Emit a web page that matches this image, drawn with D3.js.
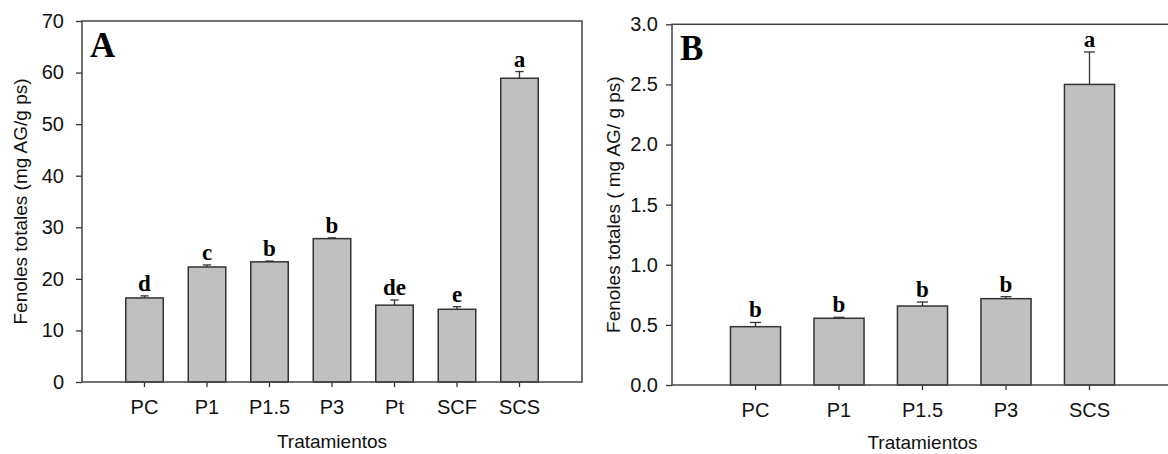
<!DOCTYPE html>
<html>
<head>
<meta charset="utf-8">
<script src="https://cdn.jsdelivr.net/npm/d3@7"></script>
<style>
  body { margin: 0; background: #fff; }
  svg { display: block; }
  .tick text { font-family: "Liberation Sans", Arial, sans-serif; font-size: 20px; fill: #111; }
  .tick line { stroke: #333; stroke-width: 1.3; }
</style>
</head>
<body>
<div id="chart"></div>
<script>
// panel A
var catsA = ["PC", "P1", "P1.5", "P3", "Pt", "SCF", "SCS"];
var meansA = [16.3, 22.3, 23.3, 27.8, 14.9, 14.1, 58.9];
var errA = [0.4, 0.4, 0.15, 0.15, 1.0, 0.5, 1.3];
var lettersA = ["d", "c", "b", "b", "de", "e", "a"];
var ticksA = [0, 10, 20, 30, 40, 50, 60, 70];

// panel B
var catsB = ["PC", "P1", "P1.5", "P3", "SCS"];
var meansB = [0.485, 0.555, 0.657, 0.718, 2.50];
var errB = [0.035, 0.008, 0.033, 0.017, 0.27];
var lettersB = ["b", "b", "b", "b", "a"];
var ticksB = [0, 0.5, 1.0, 1.5, 2.0, 2.5, 3.0];

var svg = d3.select("#chart").append("svg")
    .attr("width", 1168)
    .attr("height", 454);

function panel(opt) {
    var g = svg.append("g").attr("transform", "translate(" + opt.left + "," + opt.top + ")");
    var w = opt.width, h = opt.height;

    var x = d3.scaleBand().domain(opt.cats).range([0, w])
        .paddingInner(0.4).paddingOuter(0.7);
    var y = d3.scaleLinear().domain([0, opt.max]).range([h, 0]);

    var data = opt.cats.map(function(c, i) {
        return {cat: c, v: opt.means[i], e: opt.errs[i], l: opt.letters[i]};
    });

    // bars
    g.selectAll("rect.bar").data(data).enter().append("rect")
        .attr("class", "bar")
        .attr("x", function(d) { return x(d.cat); })
        .attr("y", function(d) { return y(d.v); })
        .attr("width", x.bandwidth())
        .attr("height", function(d) { return h - y(d.v); })
        .attr("fill", "#c0c0c0")
        .attr("stroke", "#333")
        .attr("stroke-width", 1.5);

    // upper error bars
    var capW = x.bandwidth() * 0.22;
    var eb = g.selectAll("g.err").data(data).enter().append("g").attr("class", "err");
    eb.append("line")
        .attr("x1", function(d) { return x(d.cat) + x.bandwidth() / 2; })
        .attr("x2", function(d) { return x(d.cat) + x.bandwidth() / 2; })
        .attr("y1", function(d) { return y(d.v); })
        .attr("y2", function(d) { return y(d.v + d.e); })
        .attr("stroke", "#333").attr("stroke-width", 1.3);
    eb.append("line")
        .attr("x1", function(d) { return x(d.cat) + x.bandwidth() / 2 - capW / 2; })
        .attr("x2", function(d) { return x(d.cat) + x.bandwidth() / 2 + capW / 2; })
        .attr("y1", function(d) { return y(d.v + d.e); })
        .attr("y2", function(d) { return y(d.v + d.e); })
        .attr("stroke", "#333").attr("stroke-width", 1.3);

    // significance letters
    g.selectAll("text.sig").data(data).enter().append("text")
        .attr("class", "sig")
        .attr("x", function(d) { return x(d.cat) + x.bandwidth() / 2; })
        .attr("y", function(d) { return y(d.v + d.e) - 5; })
        .attr("text-anchor", "middle")
        .style("font-family", "'Liberation Serif', 'Times New Roman', serif")
        .style("font-weight", "bold")
        .style("font-size", "23px")
        .text(function(d) { return d.l; });

    // axes
    g.append("g").attr("transform", "translate(0," + h + ")")
        .call(d3.axisBottom(x).tickSize(5).tickSizeOuter(0).tickPadding(13))
        .call(function(a) { a.select(".domain").remove(); });
    g.append("g")
        .call(d3.axisLeft(y).tickValues(opt.ticks).tickFormat(opt.fmt)
            .tickSize(6).tickSizeOuter(0).tickPadding(opt.ypad))
        .call(function(a) { a.select(".domain").remove(); });

    // frame
    g.append("rect")
        .attr("x", 0).attr("y", 0).attr("width", w).attr("height", h)
        .attr("fill", "none").attr("stroke", "#444").attr("stroke-width", 1.5);

    // panel letter
    g.append("text")
        .attr("x", 8).attr("y", 36)
        .style("font-family", "'Liberation Serif', 'Times New Roman', serif")
        .style("font-weight", "bold")
        .style("font-size", "35px")
        .text(opt.tag);

    // axis titles
    g.append("text")
        .attr("x", w / 2).attr("y", h + opt.xtitle)
        .attr("text-anchor", "middle")
        .style("font-family", "'Liberation Sans', Arial, sans-serif")
        .style("font-size", "19px")
        .attr("fill", "#111")
        .text("Tratamientos");
    g.append("text")
        .attr("transform", "translate(" + opt.ytitleX + "," + (h / 2) + ") rotate(-90)")
        .attr("text-anchor", "middle")
        .style("font-family", "'Liberation Sans', Arial, sans-serif")
        .style("font-size", "19px")
        .attr("fill", "#111")
        .text(opt.ytitle);
}

panel({
    left: 82, top: 21, width: 500, height: 361,
    cats: catsA, means: meansA, errs: errA, letters: lettersA,
    max: 70, ticks: ticksA, fmt: d3.format("d"), ypad: 12,
    tag: "A", xtitle: 66, ytitleX: -55,
    ytitle: "Fenoles totales (mg AG/g ps)"
});

panel({
    left: 672, top: 24.3, width: 501, height: 360.7,
    cats: catsB, means: meansB, errs: errB, letters: lettersB,
    max: 3, ticks: ticksB, fmt: d3.format(".1f"), ypad: 8,
    tag: "B", xtitle: 64, ytitleX: -52,
    ytitle: "Fenoles totales ( mg AG/ g ps)"
});
</script>
</body>
</html>
